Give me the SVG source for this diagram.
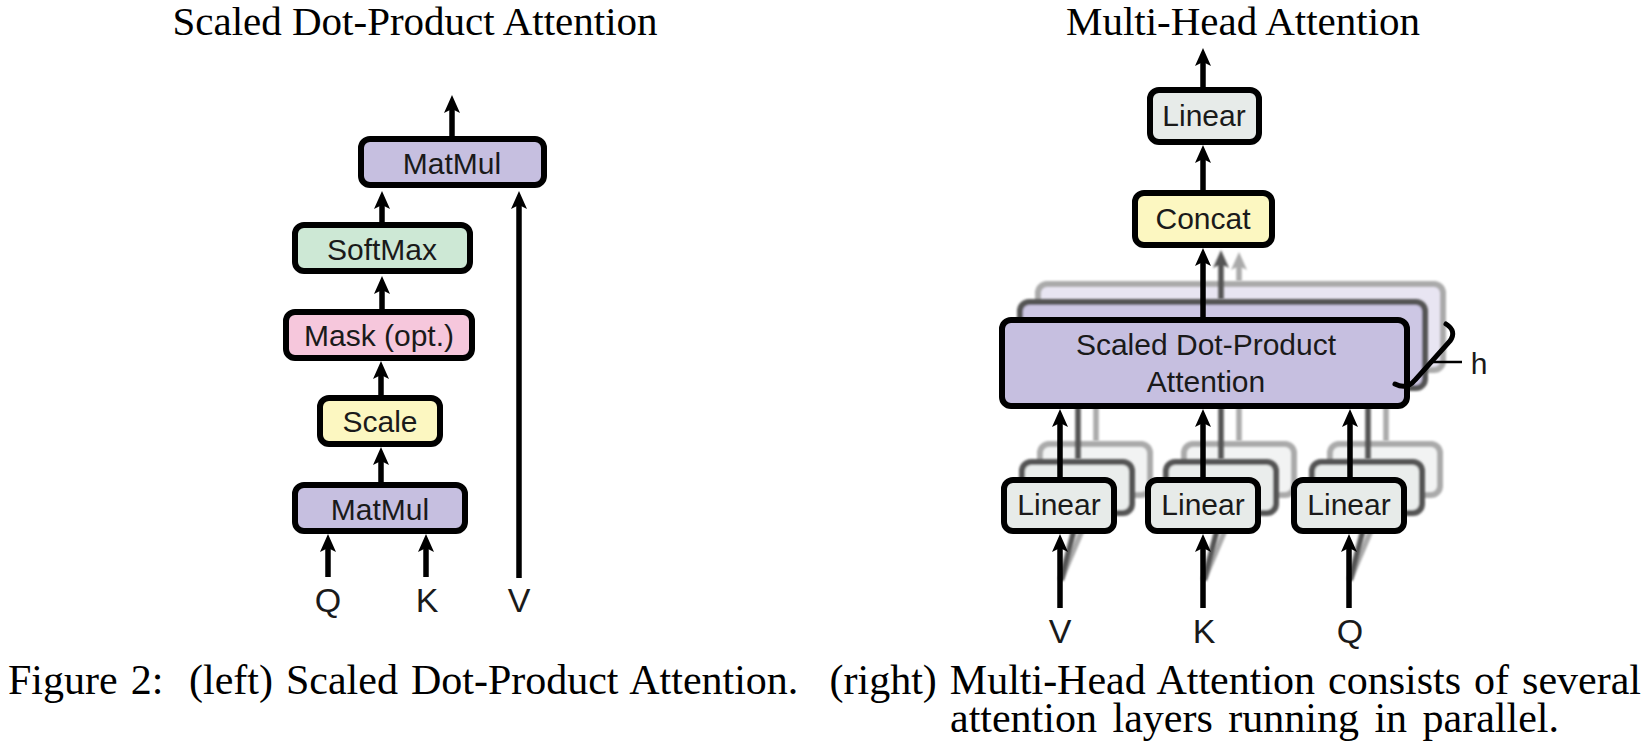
<svg xmlns="http://www.w3.org/2000/svg" width="1647" height="749" viewBox="0 0 1647 749">
<style>
.box{stroke:#000;stroke-width:6}
.purple{fill:#c6bfe0}
.green{fill:#cde8d5}
.pink{fill:#f6c7dc}
.yellow{fill:#fcf7c1}
.gray{fill:#e7ebe9}
.t{font-family:"Liberation Sans",Arial,sans-serif;font-size:30px;fill:#1a1a1a;text-anchor:middle}
.lbl{font-family:"Liberation Sans",Arial,sans-serif;font-size:34px;fill:#1a1a1a;text-anchor:middle}
.title{font-family:"Liberation Serif","Times New Roman",serif;font-size:41px;fill:#000;text-anchor:middle}
.cap{font-family:"Liberation Serif","Times New Roman",serif;font-size:42px;fill:#000}
.ln{fill:none;stroke:#000;stroke-width:5.5;marker-end:url(#ah)}
.ln2{fill:none;stroke:#555;stroke-width:5.5}
.ln2a{fill:none;stroke:#555;stroke-width:5.5;marker-end:url(#ah2)}
.ln3{fill:none;stroke:#aaa;stroke-width:5.5}
.ln3a{fill:none;stroke:#aaa;stroke-width:5.5;marker-end:url(#ah3)}
.b2{stroke:#555;stroke-width:6}
.b3{stroke:#aaa;stroke-width:6}
</style>
<defs>
<marker id="ah" viewBox="0 0 18 16" refX="4" refY="8" markerWidth="18" markerHeight="16" markerUnits="userSpaceOnUse" orient="auto"><path d="M0,0 L18,8 L0,16 L4,8 Z" fill="#000"/></marker>
<marker id="ah2" viewBox="0 0 18 16" refX="4" refY="8" markerWidth="18" markerHeight="16" markerUnits="userSpaceOnUse" orient="auto"><path d="M0,0 L18,8 L0,16 L4,8 Z" fill="#555"/></marker>
<marker id="ah3" viewBox="0 0 18 16" refX="4" refY="8" markerWidth="18" markerHeight="16" markerUnits="userSpaceOnUse" orient="auto"><path d="M0,0 L18,8 L0,16 L4,8 Z" fill="#aaa"/></marker>
<filter id="soft" x="-10%" y="-20%" width="120%" height="140%"><feGaussianBlur stdDeviation="1.3"/></filter>
</defs>
<rect width="1647" height="749" fill="#fff"/>

<!-- Titles -->
<text class="title" x="415" y="35">Scaled Dot-Product Attention</text>
<text class="title" x="1243" y="35">Multi-Head Attention</text>

<!-- LEFT: Scaled Dot-Product Attention -->
<g id="sdpa-matmul-top"><rect class="box purple" x="361" y="139" width="183" height="46" rx="9"/><text class="t" x="452" y="174">MatMul</text></g>
<g id="sdpa-softmax"><rect class="box green" x="295" y="225" width="175" height="46" rx="9"/><text class="t" x="382" y="260">SoftMax</text></g>
<g id="sdpa-mask"><rect class="box pink" x="286" y="312" width="186" height="46" rx="9"/><text class="t" x="379" y="346">Mask (opt.)</text></g>
<g id="sdpa-scale"><rect class="box yellow" x="320" y="398" width="120" height="46" rx="9"/><text class="t" x="380" y="432">Scale</text></g>
<g id="sdpa-matmul-bottom"><rect class="box purple" x="295" y="485" width="170" height="46" rx="9"/><text class="t" x="380" y="520">MatMul</text></g>
<g id="sdpa-inputs">
<text class="lbl" x="328" y="612">Q</text>
<text class="lbl" x="427" y="612">K</text>
<text class="lbl" x="519" y="612">V</text>
</g>
<g id="sdpa-connectors">
<path class="ln" d="M452,136 L452,109"/>
<path class="ln" d="M382,222 L382,205"/>
<path class="ln" d="M382,309 L382,290"/>
<path class="ln" d="M381,395 L381,375"/>
<path class="ln" d="M381,482 L381,461"/>
<path class="ln" d="M328,577 L328,548"/>
<path class="ln" d="M426,577 L426,548"/>
<path class="ln" d="M519,578 L519,205"/>
</g>

<!-- RIGHT: Multi-Head Attention -->
<g id="mha-head3" filter="url(#soft)">
<rect class="b3" x="1038" y="284" width="405" height="86" rx="9" fill="#e8e5f2"/>
<rect class="b3" x="1040" y="444" width="110" height="51" rx="9" fill="#f2f3f3"/>
<rect class="b3" x="1184" y="444" width="110" height="51" rx="9" fill="#f2f3f3"/>
<rect class="b3" x="1330" y="444" width="110" height="51" rx="9" fill="#f2f3f3"/>
</g>
<g id="mha-connectors-head3" filter="url(#soft)">
<path class="ln3a" d="M1239,281 L1239,266"/>
<path class="ln3" d="M1096,441 L1096,372"/>
<path class="ln3" d="M1239,441 L1239,372"/>
<path class="ln3" d="M1386,441 L1386,372"/>
<path class="ln3" d="M1061,580 L1096,497"/>
<path class="ln3" d="M1204,580 L1239,497"/>
<path class="ln3" d="M1350,580 L1385,497"/>
</g>
<g id="mha-head2" filter="url(#soft)">
<rect class="b2" x="1020" y="302" width="405" height="86" rx="9" fill="#cdc7e4"/>
<rect class="b2" x="1022" y="462" width="110" height="51" rx="9" fill="#eaedec"/>
<rect class="b2" x="1166" y="462" width="110" height="51" rx="9" fill="#eaedec"/>
<rect class="b2" x="1312" y="462" width="110" height="51" rx="9" fill="#eaedec"/>
</g>
<g id="mha-connectors-head2" filter="url(#soft)">
<path class="ln2a" d="M1221,299 L1221,264"/>
<path class="ln2" d="M1078,459 L1078,390"/>
<path class="ln2" d="M1221,459 L1221,390"/>
<path class="ln2" d="M1368,459 L1368,390"/>
<path class="ln2" d="M1061,580 L1078,515"/>
<path class="ln2" d="M1204,580 L1221,515"/>
<path class="ln2" d="M1350,580 L1367,515"/>
</g>

<g id="mha-linear-out"><rect class="box gray" x="1150" y="90" width="109" height="52" rx="9"/><text class="t" x="1204" y="126">Linear</text></g>
<g id="mha-concat"><rect class="box yellow" x="1135" y="193" width="137" height="52" rx="9"/><text class="t" x="1203" y="229">Concat</text></g>
<g id="mha-sdpa"><rect class="box purple" x="1002" y="320" width="405" height="86" rx="9"/><text class="t" x="1206" y="355">Scaled Dot-Product</text><text class="t" x="1206" y="392">Attention</text></g>
<g id="mha-linear-v"><rect class="box gray" x="1004" y="480" width="110" height="51" rx="9"/><text class="t" x="1059" y="515">Linear</text></g>
<g id="mha-linear-k"><rect class="box gray" x="1148" y="480" width="110" height="51" rx="9"/><text class="t" x="1203" y="515">Linear</text></g>
<g id="mha-linear-q"><rect class="box gray" x="1294" y="480" width="110" height="51" rx="9"/><text class="t" x="1349" y="515">Linear</text></g>
<g id="mha-h">
<path d="M1446,324 Q1457,331 1450,341 L1415,380 Q1407,390 1395,384" fill="none" stroke="#000" stroke-width="5" stroke-linecap="round"/>
<path d="M1432,362 L1462,362" fill="none" stroke="#000" stroke-width="2.5"/>
<text class="t" x="1479" y="374">h</text>
</g>
<g id="mha-inputs">
<text class="lbl" x="1060" y="643">V</text>
<text class="lbl" x="1204" y="643">K</text>
<text class="lbl" x="1350" y="643">Q</text>
</g>
<g id="mha-connectors">
<path class="ln" d="M1203,87 L1203,62"/>
<path class="ln" d="M1203,190 L1203,159"/>
<path class="ln" d="M1203,317 L1203,262"/>
<path class="ln" d="M1060,477 L1060,423"/>
<path class="ln" d="M1203,477 L1203,423"/>
<path class="ln" d="M1350,477 L1350,423"/>
<path class="ln" d="M1060,608 L1060,548"/>
<path class="ln" d="M1203,608 L1203,548"/>
<path class="ln" d="M1349,608 L1349,548"/>
</g>

<!-- Caption -->
<text class="cap" y="694" style="word-spacing:2.5px"><tspan x="8">Figure 2:</tspan><tspan x="189">(left) Scaled Dot-Product Attention.</tspan><tspan x="1641" text-anchor="end">(right) Multi-Head Attention consists of several</tspan></text>
<text class="cap" x="950" y="732" style="word-spacing:5px">attention layers running in parallel.</text>
</svg>
